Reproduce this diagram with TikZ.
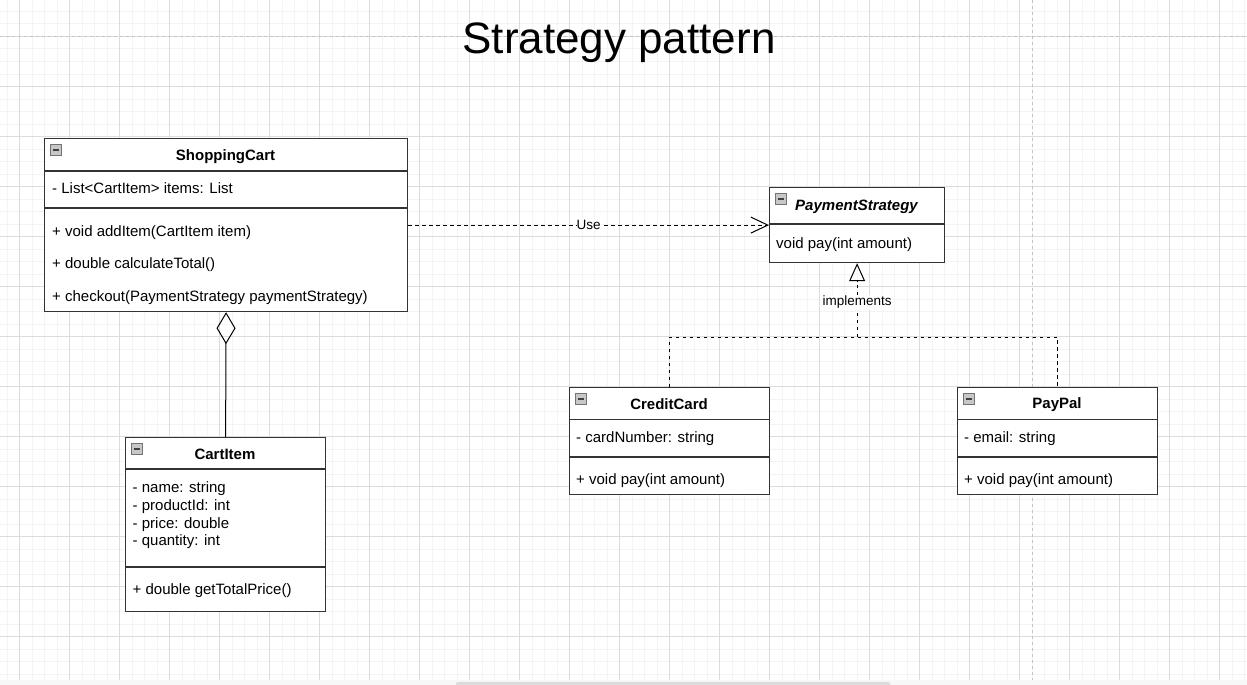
\documentclass[tikz,border=0pt]{standalone}
\usepackage{fontspec}
\setmainfont{Liberation Sans}
\usetikzlibrary{arrows.meta,positioning}
\definecolor{gridminor}{HTML}{F4F4F4}
\definecolor{gridmajor}{HTML}{DCDCDC}
\definecolor{pageline}{HTML}{C4C4C4}
\definecolor{boxedge}{HTML}{333333}
\tikzset{
    classbox/.style={draw=boxedge, line width=1.2pt, fill=white, rectangle, anchor=north west, inner sep=0pt},
    divider/.style={draw=boxedge, line width=1.2pt},
    member/.style={anchor=base west, inner sep=0pt, font=\fontsize{15}{17}\selectfont},
    classname/.style={inner sep=0pt, font=\fontsize{15}{17}\selectfont\bfseries},
    edgelabel/.style={fill=white, inner sep=1pt, font=\fontsize{13.5}{15}\selectfont},
    dep/.style={line width=1pt, dash pattern=on 3.5pt off 3.5pt},
}
\begin{document}
\begin{tikzpicture}[x=1pt, y=-1pt]
    \useasboundingbox (0,0) rectangle (1247,685);
    % canvas
    \fill[white] (0,0) rectangle (1247,685);
    \foreach \i in {0,...,99}{
        \draw[gridminor, line width=1pt] ({7+12.5*\i},0) -- ({7+12.5*\i},680);
    }
    \foreach \i in {0,...,53}{
        \draw[gridminor, line width=1pt] (0,{11.5+12.5*\i}) -- (1247,{11.5+12.5*\i});
    }
    \foreach \i in {0,...,24}{
        \draw[gridmajor, line width=1pt] ({19.5+50*\i},0) -- ({19.5+50*\i},680);
    }
    \foreach \i in {0,...,12}{
        \draw[gridmajor, line width=1pt] (0,{36.5+50*\i}) -- (1247,{36.5+50*\i});
    }
    \draw[pageline, line width=1pt, dash pattern=on 3pt off 3pt] (0,36.5) -- (1247,36.5);
    \draw[pageline, line width=1pt, dash pattern=on 3pt off 3pt] (1032,0) -- (1032,680);
    \fill[black!3] (0,680) rectangle (1247,685);
    \fill[black!14, rounded corners=1.5pt] (456,682) rectangle (890,686);

    \node[inner sep=0pt, anchor=base, font=\fontsize{44}{48}\selectfont] (title) at (619,53.5) {Strategy pattern};

    % classes
    \node[classbox, minimum width=363pt, minimum height=173pt] (cart) at (44,138) {};
    \node[classbox, minimum width=200pt, minimum height=174pt] (item) at (125,437) {};
    \node[classbox, minimum width=175pt, minimum height=75pt] (strat) at (769,187) {};
    \node[classbox, minimum width=200pt, minimum height=107pt] (credit) at (569,387) {};
    \node[classbox, minimum width=200pt, minimum height=107pt] (paypal) at (957,387) {};

    \draw[divider] (cart.west |- 0,171) -- (cart.east |- 0,171);
    \draw[divider] (cart.west |- 0,208) -- (cart.east |- 0,208);
    \draw[divider] (item.west |- 0,469) -- (item.east |- 0,469);
    \draw[divider] (item.west |- 0,567) -- (item.east |- 0,567);
    \draw[divider] (strat.west |- 0,224) -- (strat.east |- 0,224);
    \draw[divider] (credit.west |- 0,419.5) -- (credit.east |- 0,419.5);
    \draw[divider] (credit.west |- 0,457) -- (credit.east |- 0,457);
    \draw[divider] (paypal.west |- 0,419.5) -- (paypal.east |- 0,419.5);
    \draw[divider] (paypal.west |- 0,457) -- (paypal.east |- 0,457);

    \foreach \n in {cart,item,strat,credit,paypal}{
        \draw[fill=black!22, draw=black!55, line width=0.8pt] ([xshift=6pt,yshift=-6.5pt]\n.north west) rectangle ++(11,11);
        \draw[black!75, line width=1.4pt] ([xshift=8.5pt,yshift=-12pt]\n.north west) -- ++(6,0);
    }

    \node[classname] (cart-name) at (225.5,157) {ShoppingCart};
    \node[classname] (item-name) at (225,454.5) {CartItem};
    \node[classname, font=\fontsize{15}{17}\selectfont\bfseries\itshape] (strat-name) at (856.5,207) {PaymentStrategy};
    \node[classname] (credit-name) at (669,404.5) {CreditCard};
    \node[classname] (paypal-name) at (1057,404.5) {PayPal};

    \node[member] (cart-a1) at (52,193.5) {- List<CartItem> items: List};
    \node[member] (cart-m1) at (52,236) {+ void addItem(CartItem item)};
    \node[member] (cart-m2) at (52,268.5) {+ double calculateTotal()};
    \node[member] (cart-m3) at (52,301) {+ checkout(PaymentStrategy paymentStrategy)};

    \foreach \t [count=\i] in {{- name: string},{- productId: int},{- price: double},{- quantity: int}}{
        \node[member] (item-a\i) at (132.5,{492.5+17.8*(\i-1)}) {\t};
    }
    \node[member] (item-m1) at (132.5,594.5) {+ double getTotalPrice()};

    \node[member] (strat-m1) at (776,248) {void pay(int amount)};
    \node[member] (credit-a1) at (576,442.5) {- cardNumber: string};
    \node[member] (credit-m1) at (576,484) {+ void pay(int amount)};
    \node[member] (paypal-a1) at (964,442.5) {- email: string};
    \node[member] (paypal-m1) at (964,484) {+ void pay(int amount)};

    % relations
    \draw[dep, -{Straight Barb[length=17pt, width=16pt, line width=1pt]}] (cart.east) -- node[edgelabel, inner sep=0pt] (use-lbl) {Use} (strat.west);
    \draw[line width=1pt, {Diamond[open, length=32pt, width=19pt, line width=1pt]}-] (cart.south) -- (item.north);
    \coordinate (split) at (strat.south |- 0,337);
    \draw[dep] (credit.north) |- (split) -| (paypal.north);
    \draw[dep, -{Triangle[open, length=18pt, width=16pt, line width=1pt]}] (split) -- node[edgelabel, pos=0.47] (impl-lbl) {implements} (strat.south);
\end{tikzpicture}
\end{document}
